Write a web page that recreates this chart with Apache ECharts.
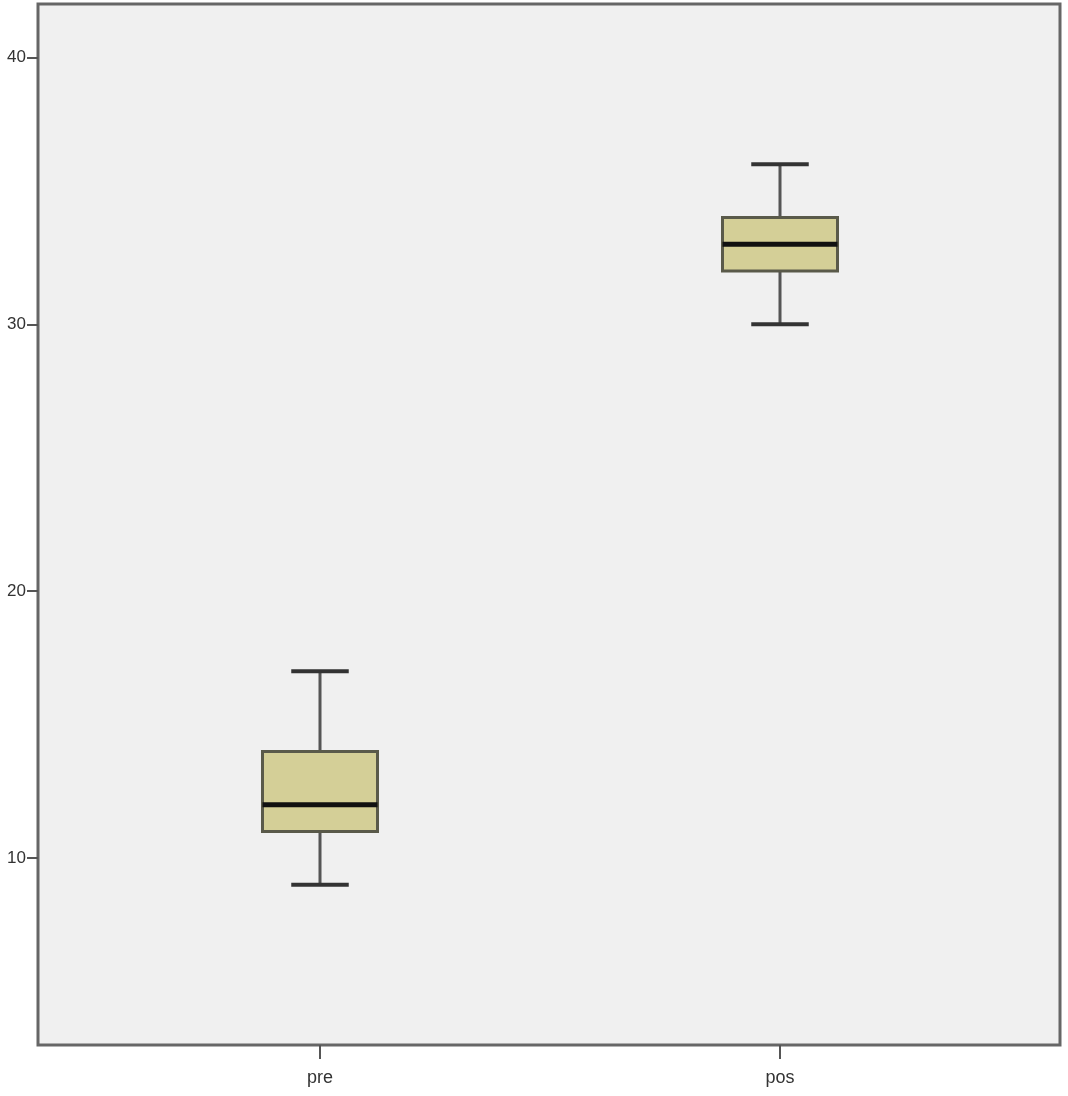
<!DOCTYPE html>
<html>
<head>
<meta charset="utf-8">
<script src="https://cdn.jsdelivr.net/npm/echarts@6/dist/echarts.min.js"></script>
<style>html,body{margin:0;padding:0;background:#fff;}#c{width:1068px;height:1096px;}</style>
</head>
<body>
<div id="c"></div>
<script>
const categories = ['pre', 'pos'];
const mins = [9, 30];
const q1s = [11, 32];
const medians = [12, 33];
const q3s = [14, 34];
const maxs = [17, 36];
const tickValues = [10, 20, 30, 40];

const data = categories.map((c, i) => [i, mins[i], q1s[i], medians[i], q3s[i], maxs[i]]);

const chart = echarts.init(document.getElementById('c'));
const font = '"Liberation Sans Narrow", "Liberation Sans", Arial, sans-serif';

chart.setOption({
  animation: false,
  backgroundColor: '#ffffff',
  grid: [
    { left: 38, right: 8, top: 4, bottom: 51, show: true, backgroundColor: '#F0F0F0', borderColor: '#666666', borderWidth: 3, z: 0 },
    { left: 90, right: 58, top: 4, bottom: 51, show: false }
  ],
  xAxis: [
    { gridIndex: 0, type: 'value', show: false, min: 0, max: 1 },
    {
      gridIndex: 1, type: 'category', data: categories, boundaryGap: true,
      axisLine: { show: false },
      axisTick: { show: true, alignWithLabel: true, length: 14, lineStyle: { color: '#555555', width: 2 } },
      axisLabel: { margin: 24, fontSize: 18, color: '#333333', fontFamily: font },
      splitLine: { show: false }
    }
  ],
  yAxis: [
    {
      gridIndex: 0, type: 'value', min: 3, max: 42,
      axisLine: { show: false },
      axisTick: { show: true, customValues: tickValues, length: 11, lineStyle: { color: '#555555', width: 2 } },
      axisLabel: { show: true, customValues: tickValues, margin: 12, fontSize: 17, color: '#333333', fontFamily: font, padding: [4, 0, 0, 0] },
      splitLine: { show: false }
    },
    { gridIndex: 1, type: 'value', min: 3, max: 42, show: false, splitLine: { show: false } }
  ],
  series: [{
    type: 'custom',
    xAxisIndex: 1,
    yAxisIndex: 1,
    encode: { x: 0, y: [1, 2, 3, 4, 5] },
    data: data,
    renderItem: function (params, api) {
      const xi = api.value(0);
      const pMin = api.coord([xi, api.value(1)]);
      const pQ1 = api.coord([xi, api.value(2)]);
      const pMed = api.coord([xi, api.value(3)]);
      const pQ3 = api.coord([xi, api.value(4)]);
      const pMax = api.coord([xi, api.value(5)]);
      const band = api.size([1, 0])[0];
      const bw = band * 0.25;
      const cw = bw * 0.5;
      const cx = pMed[0];
      const wStyle = { stroke: '#555555', lineWidth: 3 };
      const capStyle = { stroke: '#333333', lineWidth: 4 };
      return {
        type: 'group',
        children: [
          { type: 'line', shape: { x1: cx, y1: pQ3[1], x2: cx, y2: pMax[1] }, style: wStyle },
          { type: 'line', shape: { x1: cx, y1: pQ1[1], x2: cx, y2: pMin[1] }, style: wStyle },
          { type: 'line', shape: { x1: cx - cw / 2, y1: pMax[1], x2: cx + cw / 2, y2: pMax[1] }, style: capStyle },
          { type: 'line', shape: { x1: cx - cw / 2, y1: pMin[1], x2: cx + cw / 2, y2: pMin[1] }, style: capStyle },
          { type: 'rect', shape: { x: cx - bw / 2, y: pQ3[1], width: bw, height: pQ1[1] - pQ3[1] }, style: { fill: '#D4CF97', stroke: '#5a5a4a', lineWidth: 3 } },
          { type: 'line', shape: { x1: cx - bw / 2, y1: pMed[1], x2: cx + bw / 2, y2: pMed[1] }, style: { stroke: '#111111', lineWidth: 5 } }
        ]
      };
    },
    z: 5
  }]
});
</script>
</body>
</html>
